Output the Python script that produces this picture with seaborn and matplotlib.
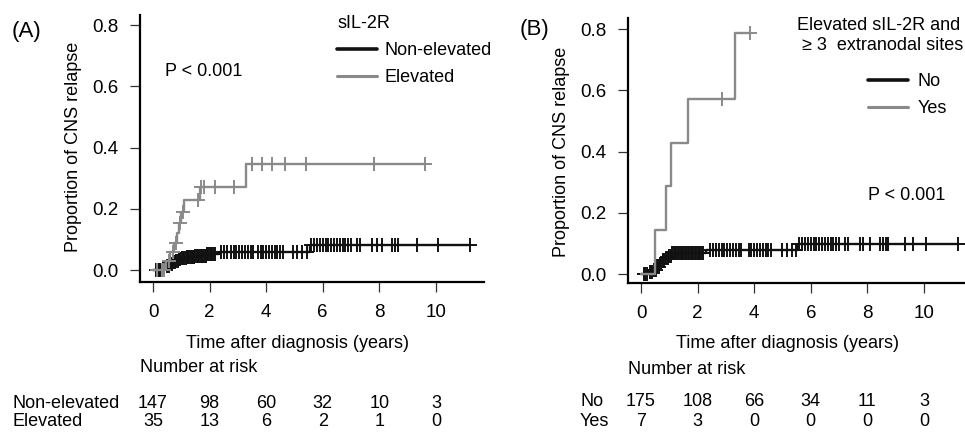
import numpy as np
import pandas as pd
import matplotlib
matplotlib.use('Agg')
import matplotlib.pyplot as plt
import matplotlib.transforms as mtransforms
import seaborn as sns

# ---- panel A: sIL-2R ----
a_labels = ['Non-elevated', 'Elevated']
# Non-elevated: event times and cumulative incidence after each event
a_non_event_t = [0.3, 0.45, 0.6, 0.7, 0.8, 0.9, 1.0, 1.2, 1.5, 1.9, 2.35, 5.55]
a_non_event_y = [0.007, 0.014, 0.021, 0.026, 0.031, 0.035, 0.039, 0.043, 0.047, 0.051, 0.059, 0.081]
a_non_censor = [0.12, 0.2, 0.25, 0.35, 0.4, 0.5, 0.55, 0.62, 0.68, 0.72, 0.78, 0.83, 0.88,
                0.93, 0.97, 1.02, 1.06, 1.1, 1.15, 1.2, 1.24, 1.28, 1.33, 1.37, 1.42, 1.46,
                1.5, 1.55, 1.6, 1.64, 1.68, 1.72, 1.77, 1.82, 1.86, 1.9, 1.95, 2.0, 2.05,
                2.1, 2.15, 2.2, 2.4, 2.5, 2.6, 2.75, 2.85, 2.95, 3.05, 3.15, 3.25, 3.35,
                3.45, 3.55, 3.7, 3.8, 3.9, 4.0, 4.1, 4.2, 4.3, 4.4, 4.5, 4.6, 4.95, 5.1,
                5.27, 5.45, 5.6, 5.7, 5.8, 5.9, 6.0, 6.1, 6.2, 6.3, 6.4, 6.5, 6.6, 6.7,
                6.8, 6.9, 7.0, 7.2, 7.3, 7.75, 7.9, 8.1, 8.45, 8.55, 8.65, 9.33, 10.07, 11.2]
# Elevated
a_elev_event_t = [0.45, 0.6, 0.75, 0.85, 0.92, 1.0, 1.1, 1.65, 3.3]
a_elev_event_y = [0.03, 0.06, 0.09, 0.12, 0.155, 0.19, 0.23, 0.27, 0.345]
a_elev_censor = [0.15, 0.3, 0.4, 0.55, 0.7, 0.82, 0.95, 1.05, 1.6, 1.7, 1.8, 2.2, 2.85,
                 3.5, 3.85, 4.2, 4.65, 5.4, 7.8, 9.6]
a_risk_times = [0, 2, 4, 6, 8, 10]
a_risk_non = [147, 98, 60, 32, 10, 3]
a_risk_elev = [35, 13, 6, 2, 1, 0]

# ---- panel B: elevated sIL-2R and >= 3 extranodal sites ----
b_labels = ['No', 'Yes']
b_no_event_t = [0.3, 0.45, 0.55, 0.65, 0.75, 0.85, 0.95, 1.1, 2.3, 5.55]
b_no_event_y = [0.006, 0.012, 0.023, 0.035, 0.045, 0.053, 0.06, 0.068, 0.078, 0.097]
b_no_censor = [0.1, 0.15, 0.22, 0.3, 0.38, 0.45, 0.52, 0.58, 0.64, 0.7, 0.76, 0.82, 0.88,
               0.94, 1.0, 1.05, 1.1, 1.15, 1.2, 1.25, 1.3, 1.35, 1.4, 1.45, 1.5, 1.55,
               1.6, 1.65, 1.7, 1.75, 1.8, 1.85, 1.9, 1.95, 2.0, 2.05, 2.1, 2.15, 2.2,
               2.45, 2.55, 2.65, 2.75, 2.85, 2.95, 3.05, 3.15, 3.25, 3.35, 3.45, 3.55,
               3.8, 3.9, 4.0, 4.1, 4.2, 4.3, 4.4, 4.5, 4.6, 4.98, 5.16, 5.34, 5.48, 5.6,
               5.7, 5.8, 5.9, 6.0, 6.1, 6.2, 6.3, 6.4, 6.5, 6.6, 6.7, 6.8, 6.9, 7.0, 7.2,
               7.3, 7.75, 7.85, 8.1, 8.45, 8.55, 8.65, 8.73, 9.33, 9.6, 10.07, 11.2]
b_yes_event_t = [0.49, 0.88, 1.06, 1.67, 3.32]
b_yes_event_y = [0.143, 0.286, 0.429, 0.571, 0.786]
b_yes_censor = [2.85, 3.85]
b_risk_times = [0, 2, 4, 6, 8, 10]
b_risk_no = [175, 108, 66, 34, 11, 3]
b_risk_yes = [7, 3, 0, 0, 0, 0]

BLACK = '#111111'
GREY = '#8a8a8a'
W, H = 965, 433


def fx(px):
    return px / W


def fy(py):
    # +2 px so that the visible glyphs (not the descender box) sit on py
    return 1 - (py + 2) / H


def step_frame(event_t, event_y, censor_t):
    t = np.concatenate([[0.0], event_t, [max(censor_t)]])
    y = np.concatenate([[0.0], event_y, [event_y[-1]]])
    return pd.DataFrame({'time': t, 'cum': y})


def value_at(event_t, event_y, times):
    idx = np.searchsorted(event_t, times, side='right')
    vals = np.concatenate([[0.0], event_y])
    return vals[idx]


def draw_curve(ax, event_t, event_y, censor_t, color, lw, label):
    df = step_frame(event_t, event_y, censor_t)
    sns.lineplot(data=df, x='time', y='cum', drawstyle='steps-post', estimator=None,
                 sort=False, color=color, lw=lw, ax=ax, label=label)
    ax.plot(censor_t, value_at(event_t, event_y, censor_t), linestyle='none',
            marker='+', ms=10, mew=1.4, color=color)


def style_axis(ax, xmax, ylim):
    ax.set_xlim(-0.46, xmax)
    ax.set_ylim(*ylim)
    ax.set_xticks([0, 2, 4, 6, 8, 10])
    ax.set_yticks([0.0, 0.2, 0.4, 0.6, 0.8])
    ax.set_yticklabels(['0.0', '0.2', '0.4', '0.6', '0.8'])
    ax.set_xlabel('')
    ax.set_ylabel('')
    for s in ['top', 'right']:
        ax.spines[s].set_visible(False)
    for s in ['left', 'bottom']:
        ax.spines[s].set_linewidth(1.6)
        ax.spines[s].set_color('black')
    ax.tick_params(axis='both', direction='out', length=7.5, width=0.9, color='#333333',
                   labelsize=13.5, labelcolor='black')
    ax.tick_params(axis='x', pad=8)
    ax.tick_params(axis='y', pad=8)


sns.set_theme(style='ticks')
plt.rcParams['font.family'] = ['Liberation Sans', 'DejaVu Sans']
plt.rcParams['text.color'] = 'black'

fig = plt.figure(figsize=(9.65, 4.33), dpi=100)
ax_a = fig.add_axes([fx(140), 1 - 282 / H, fx(484) - fx(140), (282 - 15) / H])
ax_b = fig.add_axes([fx(628), 1 - 283 / H, 1 - fx(628), (283 - 18) / H])

# panel A
draw_curve(ax_a, a_non_event_t, a_non_event_y, a_non_censor, BLACK, 1.7, a_labels[0])
draw_curve(ax_a, a_elev_event_t, a_elev_event_y, a_elev_censor, GREY, 1.7, a_labels[1])
style_axis(ax_a, 11.7, (-0.039, 0.833))
leg = ax_a.legend(handles=ax_a.get_lines()[0:1] + ax_a.get_lines()[2:3], labels=a_labels,
                  loc='upper left', bbox_to_anchor=(fx(337), 1 - 42 / H),
                  bbox_transform=fig.transFigure, frameon=False, fontsize=13,
                  handlelength=2.2, handletextpad=0.45, labelspacing=0.57,
                  borderpad=0, borderaxespad=0)
leg.get_lines()[0].set_linewidth(2.6)
leg.get_lines()[1].set_linewidth(2.2)

# panel B
draw_curve(ax_b, b_no_event_t, b_no_event_y, b_no_censor, BLACK, 1.7, b_labels[0])
draw_curve(ax_b, b_yes_event_t, b_yes_event_y, b_yes_censor, GREY, 1.7, b_labels[1])
style_axis(ax_b, 11.45, (-0.029, 0.836))
leg = ax_b.legend(handles=ax_b.get_lines()[0:1] + ax_b.get_lines()[2:3], labels=b_labels,
                  loc='upper left', bbox_to_anchor=(fx(868), 1 - 73 / H),
                  bbox_transform=fig.transFigure, frameon=False, fontsize=13,
                  handlelength=2.2, handletextpad=0.55, labelspacing=0.57,
                  borderpad=0, borderaxespad=0)
leg.get_lines()[0].set_linewidth(2.6)
leg.get_lines()[1].set_linewidth(2.2)

# panel texts
fig.text(fx(12), fy(30), '(A)', fontsize=16, va='center', ha='left')
fig.text(fx(520), fy(28), '(B)', fontsize=16, va='center', ha='left')
fig.text(fx(74), fy(145), 'Proportion of CNS relapse', rotation=90, fontsize=13,
         va='center', ha='center')
fig.text(fx(562), fy(150), 'Proportion of CNS relapse', rotation=90, fontsize=13,
         va='center', ha='center')
fig.text(fx(165), fy(70), 'P < 0.001', fontsize=13, va='center', ha='left')
fig.text(fx(868), fy(193), 'P < 0.001', fontsize=13, va='center', ha='left')
fig.text(fx(338), fy(22), 'sIL-2R', fontsize=13, va='center', ha='left')
fig.text(fx(797), fy(23), 'Elevated sIL-2R and', fontsize=13, va='center', ha='left')
fig.text(fx(802), fy(43), '\u2265 3  extranodal sites', fontsize=13, va='center', ha='left')
fig.text(fx(298), fy(342), 'Time after diagnosis (years)', fontsize=13, va='center', ha='center')
fig.text(fx(787), fy(342), 'Time after diagnosis (years)', fontsize=13, va='center', ha='center')

# number at risk tables
fig.text(fx(140), fy(366), 'Number at risk', fontsize=13, va='center', ha='left')
fig.text(fx(628), fy(368), 'Number at risk', fontsize=13, va='center', ha='left')

tr_a = mtransforms.blended_transform_factory(ax_a.transData, fig.transFigure)
tr_b = mtransforms.blended_transform_factory(ax_b.transData, fig.transFigure)
fig.text(fx(12), fy(402), a_labels[0], fontsize=13, va='center', ha='left')
fig.text(fx(12), fy(419), a_labels[1], fontsize=13, va='center', ha='left')
for t, n1, n2 in zip(a_risk_times, a_risk_non, a_risk_elev):
    ax_a.text(t, fy(402), str(n1), transform=tr_a, fontsize=13, va='center', ha='center')
    ax_a.text(t, fy(419), str(n2), transform=tr_a, fontsize=13, va='center', ha='center')
fig.text(fx(580), fy(400), b_labels[0], fontsize=13, va='center', ha='left')
fig.text(fx(580), fy(420), b_labels[1], fontsize=13, va='center', ha='left')
for t, n1, n2 in zip(b_risk_times, b_risk_no, b_risk_yes):
    ax_b.text(t, fy(400), str(n1), transform=tr_b, fontsize=13, va='center', ha='center')
    ax_b.text(t, fy(420), str(n2), transform=tr_b, fontsize=13, va='center', ha='center')

fig.savefig('out.png', dpi=100)
